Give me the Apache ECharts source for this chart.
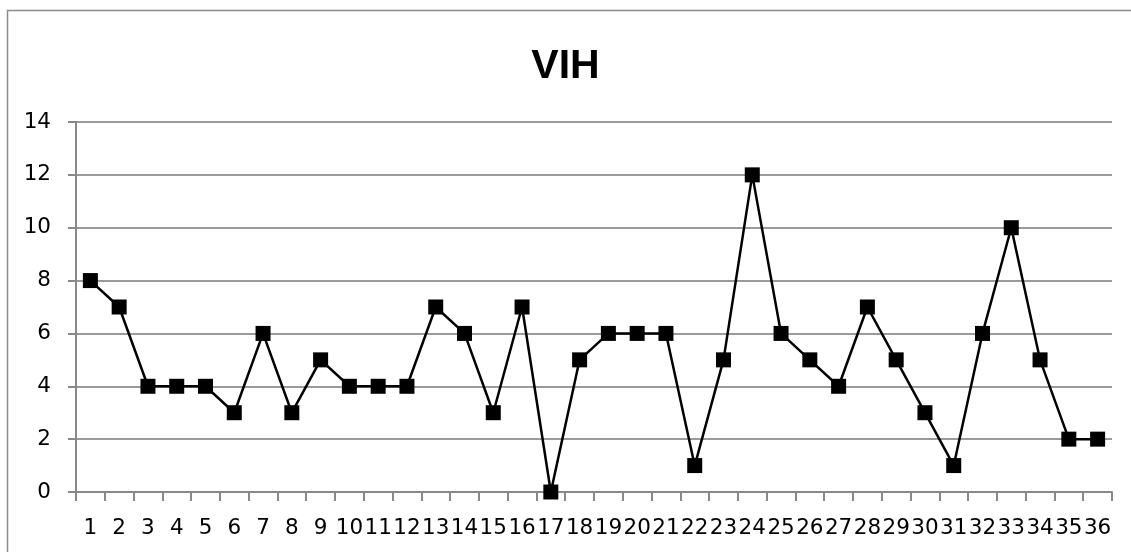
<!DOCTYPE html>
<html><head><meta charset="utf-8">
<script src="https://cdn.jsdelivr.net/npm/echarts@6/dist/echarts.min.js"></script>
<style>html,body{margin:0;padding:0;background:#fff}#c{width:1131px;height:552px}</style>
</head><body><div id="c"></div>
<script>
const title = "VIH";
const categories = ["1","2","3","4","5","6","7","8","9","10","11","12","13","14","15","16","17","18","19","20","21","22","23","24","25","26","27","28","29","30","31","32","33","34","35","36"];
const values = [8,7,4,4,4,3,6,3,5,4,4,4,7,6,3,7,0,5,6,6,6,1,5,12,6,5,4,7,5,3,1,6,10,5,2,2];
const yTicks = {min:0, max:14, interval:2};

const chart = echarts.init(document.getElementById('c'));
chart.setOption({
  animation:false,
  backgroundColor:'#fff',
  graphic:[{type:'rect',shape:{x:7.5,y:10.5,width:1200,height:600},style:{fill:'none',stroke:'#8c8c8c',lineWidth:1.5},silent:true}],
  title:{text:title,left:'center',top:41,textStyle:{fontFamily:'Liberation Sans',fontWeight:'bold',fontSize:41,color:'#000'}},
  grid:{left:76,right:19,top:122,bottom:60},
  xAxis:{type:'category',data:categories,boundaryGap:true,
    axisLine:{lineStyle:{color:'#888',width:2}},
    axisTick:{show:true,length:9,alignWithLabel:false,lineStyle:{color:'#888',width:2}},
    axisLabel:{interval:0,margin:25,color:'#000',fontFamily:'DejaVu Sans',fontSize:21.5}},
  yAxis:{type:'value',min:yTicks.min,max:yTicks.max,interval:yTicks.interval,
    axisLine:{show:true,lineStyle:{color:'#888',width:2}},
    axisTick:{show:true,length:8,lineStyle:{color:'#888',width:2}},
    splitLine:{lineStyle:{color:'#9a9a9a',width:2}},
    axisLabel:{margin:25,color:'#000',fontFamily:'DejaVu Sans',fontSize:21.5}},
  series:[{type:'line',data:values,symbol:'rect',symbolSize:15,
    lineStyle:{color:'#000',width:2.5},itemStyle:{color:'#000'}}]
});
</script></body></html>
